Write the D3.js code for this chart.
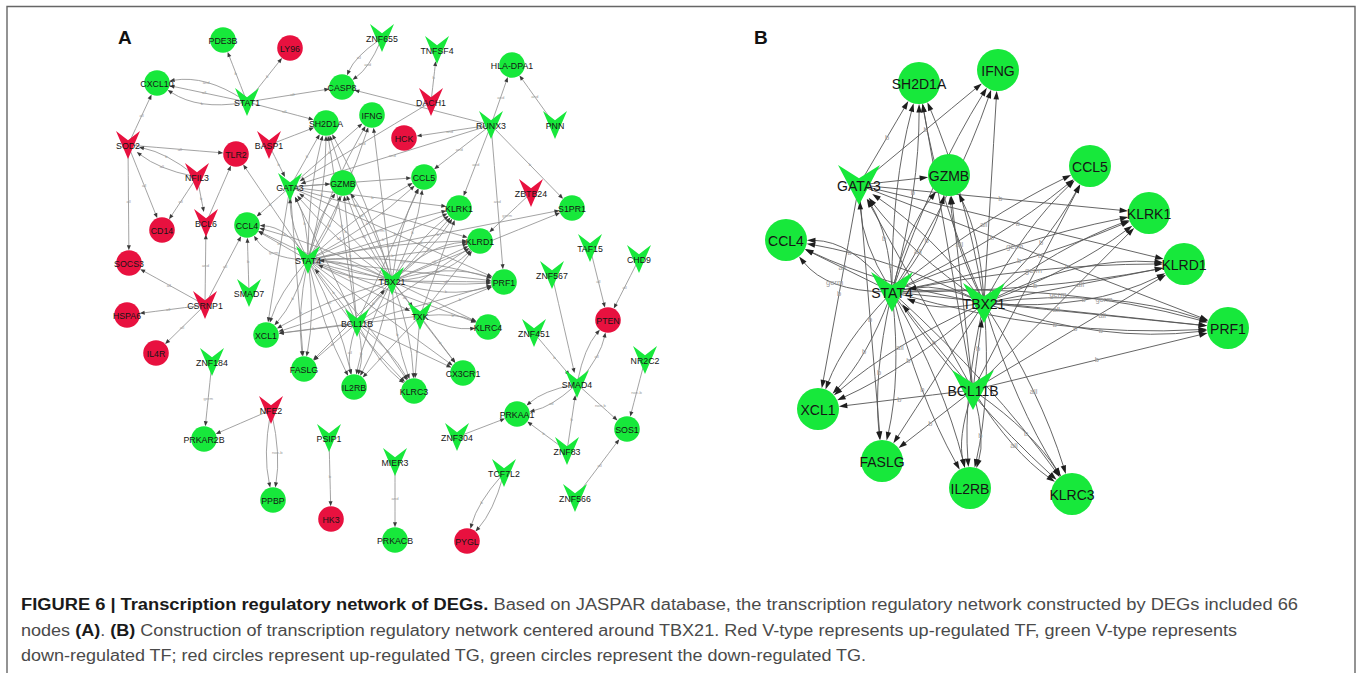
<!DOCTYPE html>
<html>
<head>
<meta charset="utf-8">
<script src="https://cdn.jsdelivr.net/npm/d3@7"></script>
<style>
  body { margin: 0; background: #fff; }
  svg { display: block; }
</style>
</head>
<body>
<svg id="fig" width="1358" height="673"></svg>
<script>
// ---- node classes ----
const tfUp = ["DACH1", "SOD2", "BASP1", "NFIL3", "ZBTB24", "BCL6", "CSRNP1", "NFE2"];
const tfDown = ["ZNF655", "TNFSF4", "STAT1", "RUNX3", "PNN", "GATA3", "TAF15", "CHD9", "STAT4",
  "TBX21", "ZNF567", "SMAD7", "BCL11B", "TXK", "ZNF451", "SMAD4", "NR2C2", "ZNF184", "ZNF304",
  "ZNF83", "PSIP1", "MIER3", "TCF7L2", "ZNF566"];
const tgUp = ["LY96", "TLR2", "HCK", "CD14", "SOCS3", "HSPA6", "IL4R", "PTEN", "HK3", "PYGL"];
const tgDown = ["PDE3B", "HLA-DPA1", "CXCL10", "CASP8", "SH2D1A", "IFNG", "GZMB", "CCL5", "S1PR1",
  "KLRK1", "CCL4", "KLRD1", "PRF1", "KLRC4", "XCL1", "FASLG", "IL2RB", "KLRC3", "CX3CR1",
  "PRKAR2B", "PRKAA1", "SOS1", "PPBP", "PRKACB"];

// ---- layout of network A (layout units) ----
const layoutA = [
  ["PDE3B", 123, 20], ["LY96", 190, 28], ["ZNF655", 282, 18], ["TNFSF4", 337, 30],
  ["HLA-DPA1", 412, 45], ["CXCL10", 57, 63], ["STAT1", 147, 82], ["CASP8", 242, 67],
  ["DACH1", 331, 82], ["SH2D1A", 226, 103], ["IFNG", 272, 95], ["RUNX3", 391, 105],
  ["PNN", 455, 105], ["SOD2", 28, 125], ["BASP1", 169, 125], ["TLR2", 136, 134],
  ["HCK", 304, 118], ["NFIL3", 97, 157], ["GATA3", 190, 167], ["GZMB", 243, 163],
  ["CCL5", 324, 157], ["ZBTB24", 431, 173], ["S1PR1", 472, 188], ["KLRK1", 359, 188],
  ["CD14", 62, 210], ["BCL6", 106, 203], ["CCL4", 147, 205], ["KLRD1", 380, 221],
  ["TAF15", 490, 228], ["CHD9", 539, 239], ["SOCS3", 29, 243], ["STAT4", 208, 240],
  ["TBX21", 292, 261], ["PRF1", 404, 262], ["ZNF567", 452, 255], ["SMAD7", 149, 273],
  ["CSRNP1", 105, 285], ["HSPA6", 27, 295], ["BCL11B", 257, 303], ["TXK", 320, 296],
  ["KLRC4", 388, 307], ["PTEN", 508, 300], ["ZNF451", 434, 313], ["IL4R", 56, 333],
  ["XCL1", 166, 315], ["FASLG", 204, 349], ["IL2RB", 254, 367], ["KLRC3", 314, 371],
  ["CX3CR1", 363, 353], ["SMAD4", 477, 364], ["NR2C2", 545, 340], ["ZNF184", 112, 342],
  ["NFE2", 171, 390], ["PRKAR2B", 104, 419], ["PRKAA1", 417, 394], ["ZNF304", 357, 417],
  ["SOS1", 527, 409], ["ZNF83", 467, 431], ["PSIP1", 229, 418], ["MIER3", 295, 442],
  ["PPBP", 173, 480], ["HK3", 231, 499], ["TCF7L2", 404, 453], ["ZNF566", 475, 478],
  ["PRKACB", 295, 520], ["PYGL", 367, 521]
];

// ---- layout of network B (layout units) ----
const layoutB = [
  ["SH2D1A", 169, 63], ["IFNG", 248, 50], ["GZMB", 199, 155], ["GATA3", 109, 165],
  ["CCL5", 340, 146], ["KLRK1", 399, 193], ["CCL4", 36, 220], ["KLRD1", 434, 244],
  ["STAT4", 142, 272], ["TBX21", 234, 283], ["PRF1", 478, 308], ["BCL11B", 223, 370],
  ["XCL1", 68, 389], ["FASLG", 132, 441], ["IL2RB", 220, 468], ["KLRC3", 322, 474]
];

// ---- regulatory edges: [TF, target, binding label] ----
const coreEdges = [
  ["GATA3", "SH2D1A", "b"], ["GATA3", "IFNG", "b"], ["GATA3", "GZMB", "b"], ["GATA3", "KLRK1", "b"],
  ["GATA3", "KLRD1", "b"], ["GATA3", "PRF1", "b"], ["GATA3", "XCL1", "b"], ["GATA3", "FASLG", "b"],
  ["STAT4", "SH2D1A", "b"], ["STAT4", "SH2D1A", "all"], ["STAT4", "IFNG", "b"], ["STAT4", "IFNG", "all"],
  ["STAT4", "GZMB", "b"], ["STAT4", "GZMB", "all"], ["STAT4", "CCL5", "b"], ["STAT4", "CCL5", "all"],
  ["STAT4", "KLRK1", "b"], ["STAT4", "KLRK1", "germ"], ["STAT4", "KLRD1", "b"], ["STAT4", "KLRD1", "germ"],
  ["STAT4", "PRF1", "b"], ["STAT4", "PRF1", "all"], ["STAT4", "PRF1", "germ"],
  ["STAT4", "CCL4", "b"], ["STAT4", "CCL4", "all"], ["STAT4", "CCL4", "germ"],
  ["STAT4", "XCL1", "b"], ["STAT4", "XCL1", "all"], ["STAT4", "FASLG", "b"], ["STAT4", "FASLG", "all"],
  ["STAT4", "IL2RB", "b"], ["STAT4", "IL2RB", "all"], ["STAT4", "KLRC3", "b"], ["STAT4", "KLRC3", "all"],
  ["STAT4", "GATA3", "b"], ["STAT4", "GATA3", "all"],
  ["TBX21", "SH2D1A", "b"], ["TBX21", "SH2D1A", "all"], ["TBX21", "IFNG", "b"],
  ["TBX21", "GZMB", "b"], ["TBX21", "GZMB", "all"], ["TBX21", "CCL5", "b"], ["TBX21", "CCL5", "all"],
  ["TBX21", "KLRK1", "b"], ["TBX21", "KLRK1", "all"],
  ["TBX21", "KLRD1", "b"], ["TBX21", "KLRD1", "all"], ["TBX21", "KLRD1", "germ"],
  ["TBX21", "PRF1", "b"], ["TBX21", "PRF1", "all"], ["TBX21", "PRF1", "germ"],
  ["TBX21", "CCL4", "b"], ["TBX21", "CCL4", "all"], ["TBX21", "XCL1", "b"], ["TBX21", "XCL1", "all"],
  ["TBX21", "FASLG", "b"], ["TBX21", "IL2RB", "b"], ["TBX21", "IL2RB", "all"],
  ["TBX21", "KLRC3", "b"], ["TBX21", "KLRC3", "all"], ["TBX21", "GATA3", "b"], ["TBX21", "GATA3", "all"],
  ["TBX21", "STAT4", "b"], ["TBX21", "STAT4", "all"],
  ["BCL11B", "SH2D1A", "b"], ["BCL11B", "GZMB", "b"], ["BCL11B", "CCL5", "b"], ["BCL11B", "KLRK1", "b"],
  ["BCL11B", "KLRD1", "b"], ["BCL11B", "PRF1", "b"], ["BCL11B", "XCL1", "b"], ["BCL11B", "FASLG", "b"],
  ["BCL11B", "IL2RB", "b"], ["BCL11B", "IL2RB", "all"], ["BCL11B", "KLRC3", "b"], ["BCL11B", "KLRC3", "all"],
  ["BCL11B", "TBX21", "b"], ["BCL11B", "STAT4", "b"], ["BCL11B", "GATA3", "b"]
];

const extraCoreEdgesA = [
  ["TXK", "PRF1", "b"], ["TXK", "KLRC4", "all"], ["TXK", "KLRC4", "b"], ["TXK", "KLRD1", "b"],
  ["TXK", "CX3CR1", "b"], ["TXK", "KLRC3", "b"], ["TXK", "IL2RB", "b"], ["TXK", "KLRK1", "b"],
  ["TXK", "XCL1", "b"], ["STAT4", "CX3CR1", "b"], ["TBX21", "CX3CR1", "b"], ["BCL11B", "CX3CR1", "b"],
  ["TBX21", "S1PR1", "b"], ["TBX21", "KLRC4", "b"], ["STAT4", "KLRC4", "b"], ["STAT4", "TXK", "b"],
  ["TBX21", "TXK", "all"], ["GATA3", "CCL4", "b"], ["GATA3", "CCL5", "b"], ["STAT4", "S1PR1", "b"],
  ["STAT4", "TLR2", "and"]
];

const peripheralEdgesA = [
  ["STAT1", "PDE3B", "b"], ["STAT1", "LY96", "b"], ["STAT1", "CXCL10", "and"], ["STAT1", "CXCL10", "all"],
  ["STAT1", "CXCL10", "b"], ["STAT1", "CASP8", "all"], ["STAT1", "SH2D1A", "all"],
  ["ZNF655", "CASP8", "all"], ["ZNF655", "CASP8", "and"], ["DACH1", "TNFSF4", "b"], ["DACH1", "GATA3", "and"],
  ["RUNX3", "HLA-DPA1", "and"], ["RUNX3", "HCK", "and"], ["RUNX3", "CCL5", "and"], ["RUNX3", "CASP8", "b"],
  ["RUNX3", "KLRK1", "and"], ["RUNX3", "PRF1", "and"], ["RUNX3", "S1PR1", "b"], ["RUNX3", "GATA3", "and"],
  ["PNN", "HLA-DPA1", "and"],
  ["SOD2", "CXCL10", "all"], ["SOD2", "TLR2", "all"], ["SOD2", "CD14", "all"], ["SOD2", "SOCS3", "all"],
  ["NFIL3", "SOD2", "all"], ["NFIL3", "SOD2", "b"], ["NFIL3", "CD14", "all"], ["NFIL3", "BCL6", "b"],
  ["BCL6", "TLR2", "and"], ["BASP1", "SH2D1A", "b"], ["BASP1", "GATA3", "b"],
  ["CSRNP1", "BCL6", "and"], ["CSRNP1", "SOCS3", "all"], ["CSRNP1", "HSPA6", "all"],
  ["CSRNP1", "IL4R", "all"], ["CSRNP1", "CCL4", "all"], ["SMAD7", "CCL4", "b"],
  ["ZBTB24", "KLRD1", "germ"],
  ["ZNF184", "PRKAR2B", "germ"], ["NFE2", "PRKAR2B", "b"], ["NFE2", "PPBP", "non-b"], ["NFE2", "PPBP", "all"],
  ["PSIP1", "HK3", "b"], ["MIER3", "PRKACB", "and"], ["TCF7L2", "PYGL", "b"], ["TCF7L2", "PYGL", "all"],
  ["ZNF304", "PRKAA1", "b"], ["ZNF83", "PRKAA1", "b"], ["ZNF83", "SMAD4", "b"],
  ["SMAD4", "PRKAA1", "b"], ["SMAD4", "PRKAA1", "all"], ["SMAD4", "SOS1", "non-b"],
  ["SMAD4", "PTEN", "all"], ["SMAD4", "PTEN", "b"], ["NR2C2", "SOS1", "non-b"], ["ZNF566", "SOS1", "all"],
  ["TAF15", "PTEN", "all"], ["CHD9", "PTEN", "all"], ["ZNF567", "SMAD4", "b"], ["ZNF451", "SMAD4", "b"]
];

const edgesA = peripheralEdgesA.concat(coreEdges, extraCoreEdgesA);
const edgesB = coreEdges;

const panelLetters = ["A", "B"];
const captionLines = [
  [["FIGURE 6 | Transcription regulatory network of DEGs.", true],
   [" Based on JASPAR database, the transcription regulatory network constructed by DEGs included 66", false]],
  [["nodes ", false], ["(A)", true], [". ", false], ["(B)", true],
   [" Construction of transcription regulatory network centered around TBX21. Red V-type represents up-regulated TF, green V-type represents", false]],
  [["down-regulated TF; red circles represent up-regulated TG, green circles represent the down-regulated TG.", false]]
];

// ---- drawing ----
const GREEN = "#17e83b", RED = "#e8113f";
const isTF = n => tfUp.includes(n) || tfDown.includes(n);
const fillOf = n => (tfUp.includes(n) || tgUp.includes(n)) ? RED : GREEN;

const svg = d3.select("#fig");
svg.append("rect").attr("width", 1358).attr("height", 673).attr("fill", "#fff");
// frame (open at the bottom edge of the page)
svg.append("path")
  .attr("d", "M7,700 L7,6.5 L1355,6.5 L1355,700")
  .attr("fill", "none").attr("stroke", "#666").attr("stroke-width", 1.4);

function drawNetwork(layout, edges, cfg) {
  const pos = new Map(layout.map(([n, x, y]) => [n, { x: cfg.x(x), y: cfg.y(y) }]));
  const g = svg.append("g");
  const nodeR = n => isTF(n) ? cfg.vh * 0.8 : cfg.r;

  const geo = [];
  const groups = d3.group(edges, e => [e[0], e[1]].sort().join("|"));
  for (const [key, list] of groups) {
    const first = key.split("|")[0];
    const n = list.length;
    list.forEach((e, i) => {
      const s = pos.get(e[0]), t = pos.get(e[1]);
      const dx = t.x - s.x, dy = t.y - s.y, len = Math.hypot(dx, dy);
      const px = -dy / len, py = dx / len;
      const sign = e[0] === first ? 1 : -1;
      const off = (n === 1 ? cfg.bend : (i - (n - 1) / 2) * cfg.step) * sign;
      const c = { x: (s.x + t.x) / 2 + px * off * 2, y: (s.y + t.y) / 2 + py * off * 2 };
      let ux = t.x - c.x, uy = t.y - c.y; const ul = Math.hypot(ux, uy); ux /= ul; uy /= ul;
      let sx = c.x - s.x, sy = c.y - s.y; const sl = Math.hypot(sx, sy); sx /= sl; sy /= sl;
      const rs = isTF(e[0]) ? cfg.srcTrimV : cfg.r;
      const start = { x: s.x + sx * rs, y: s.y + sy * rs };
      const end = { x: t.x - ux * nodeR(e[1]), y: t.y - uy * nodeR(e[1]) };
      const lineEnd = { x: end.x - ux * cfg.arrowLen * 0.85, y: end.y - uy * cfg.arrowLen * 0.85 };
      const mid = { x: 0.25 * start.x + 0.5 * c.x + 0.25 * end.x, y: 0.25 * start.y + 0.5 * c.y + 0.25 * end.y };
      geo.push({ e, start, c, end, lineEnd, ux, uy, mid });
    });
  }

  // edge labels are kept only where they sit clear of nodes and of each other
  const nodePts = layout.map(([n]) => ({ n, ...pos.get(n) }));
  const kept = [];
  const labelled = geo.filter(d => {
    const clearNodes = nodePts.every(p => {
      const rr = isTF(p.n) ? cfg.vh + cfg.font * 2 : cfg.r + 3;
      return Math.abs(p.x - d.mid.x) > rr || Math.abs(p.y - d.mid.y) > (isTF(p.n) ? cfg.vh + 2 : cfg.r + 3);
    });
    const clearLabels = kept.every(k => Math.abs(k.x - d.mid.x) > cfg.edgeFont * 2.6 || Math.abs(k.y - d.mid.y) > cfg.edgeFont * 1.3);
    if (clearNodes && clearLabels) { kept.push(d.mid); return true; }
    return false;
  });

  const eg = g.append("g");
  eg.selectAll("path.edge").data(geo).join("path")
    .attr("class", "edge")
    .attr("d", d => {
      const p = d3.path();
      p.moveTo(d.start.x, d.start.y);
      p.quadraticCurveTo(d.c.x, d.c.y, d.lineEnd.x, d.lineEnd.y);
      return p.toString();
    })
    .attr("fill", "none").attr("stroke", cfg.edgeColor).attr("stroke-width", cfg.edgeWidth);

  eg.selectAll("path.arrow").data(geo).join("path")
    .attr("class", "arrow")
    .attr("d", d => {
      const L = cfg.arrowLen, W = cfg.arrowW / 2;
      const bx = d.end.x - d.ux * L, by = d.end.y - d.uy * L;
      const p = d3.path();
      p.moveTo(d.end.x, d.end.y);
      p.lineTo(bx - d.uy * W, by + d.ux * W);
      p.lineTo(bx + d.uy * W, by - d.ux * W);
      p.closePath();
      return p.toString();
    })
    .attr("fill", cfg.arrowColor);

  eg.selectAll("text.elabel").data(labelled).join("text")
    .attr("class", "elabel")
    .attr("x", d => d.mid.x)
    .attr("y", d => d.mid.y)
    .attr("text-anchor", "middle").attr("dominant-baseline", "central")
    .attr("font-family", "Liberation Sans, Arial, sans-serif")
    .attr("font-size", cfg.edgeFont).attr("fill", "#9a9a9a")
    .text(d => d.e[2]);

  const ng = g.append("g");
  ng.selectAll("circle").data(nodePts.filter(d => !isTF(d.n))).join("circle")
    .attr("cx", d => d.x).attr("cy", d => d.y).attr("r", cfg.r)
    .attr("fill", d => fillOf(d.n));
  ng.selectAll("path.v").data(nodePts.filter(d => isTF(d.n))).join("path")
    .attr("class", "v")
    .attr("d", d => {
      const p = d3.path();
      p.moveTo(d.x - cfg.vw, d.y - cfg.vh);
      p.lineTo(d.x, d.y - cfg.vh / 3);
      p.lineTo(d.x + cfg.vw, d.y - cfg.vh);
      p.lineTo(d.x, d.y + cfg.vh);
      p.closePath();
      return p.toString();
    })
    .attr("fill", d => fillOf(d.n));
  ng.selectAll("text").data(nodePts).join("text")
    .attr("x", d => d.x).attr("y", d => d.y + cfg.labelDy)
    .attr("text-anchor", "middle").attr("dominant-baseline", "central")
    .attr("font-family", "Liberation Sans, Arial, sans-serif")
    .attr("font-size", cfg.font).attr("fill", "#151515")
    .text(d => d.n);
}

drawNetwork(layoutA, edgesA, {
  x: d3.scaleLinear().domain([0, 560]).range([100, 660]),
  y: d3.scaleLinear().domain([0, 540]).range([20, 560]),
  r: 12.8, vw: 12, vh: 14, srcTrimV: 4, step: 9, bend: 0,
  arrowLen: 5, arrowW: 4, edgeColor: "#8c8c8c", edgeWidth: 0.8, arrowColor: "#3a3a3a",
  edgeFont: 4.2, font: 8.8, labelDy: 0.5
});

drawNetwork(layoutB, edgesB, {
  x: d3.scaleLinear().domain([0, 520]).range([750, 1270]),
  y: d3.scaleLinear().domain([0, 520]).range([20, 540]),
  r: 21, vw: 21, vh: 20, srcTrimV: 6, step: 14, bend: 0,
  arrowLen: 8.5, arrowW: 5.5, edgeColor: "#555", edgeWidth: 0.9, arrowColor: "#1e1e1e",
  edgeFont: 7.5, font: 14, labelDy: 0.5
});

// panel letters
svg.selectAll("text.panel").data(panelLetters).join("text")
  .attr("class", "panel")
  .attr("x", (d, i) => [118, 754][i]).attr("y", 44)
  .attr("font-family", "Liberation Sans, Arial, sans-serif")
  .attr("font-weight", "bold").attr("font-size", 19).attr("fill", "#111")
  .text(d => d);

// caption
const capWidths = [1277, 1216, 845];
const capY = [610, 636, 661];
captionLines.forEach((parts, i) => {
  const t = svg.append("text")
    .attr("x", 21).attr("y", capY[i])
    .attr("font-family", "Liberation Sans, Arial, sans-serif")
    .attr("font-size", 16).attr("fill", "#4a4a4a")
    .attr("textLength", capWidths[i]).attr("lengthAdjust", "spacingAndGlyphs");
  parts.forEach(([str, bold]) => {
    t.append("tspan").text(str)
      .attr("font-weight", bold ? "bold" : null)
      .attr("fill", bold ? "#1a1a1a" : null);
  });
});
</script>
</body>
</html>
